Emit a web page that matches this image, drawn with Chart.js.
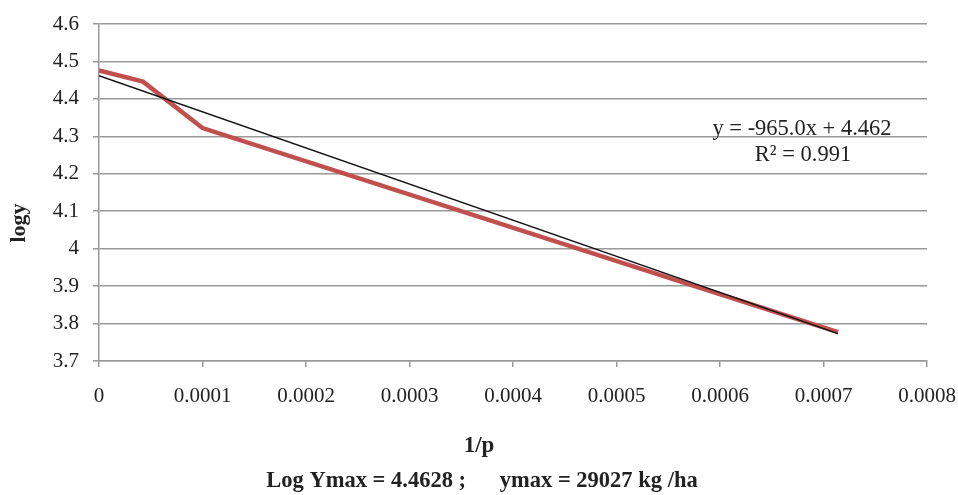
<!DOCTYPE html>
<html>
<head>
<meta charset="utf-8">
<script src="https://cdn.jsdelivr.net/npm/chart.js@4"></script>
<style>
  html, body { margin: 0; padding: 0; background: #fff; }
  #wrap { width: 958px; height: 495px; position: relative; }
</style>
</head>
<body>
<div id="wrap"><canvas id="chart"></canvas></div>
<script>
// data
const xValues = [0, 0.0000425, 0.0001, 0.000714];
const logyValues = [4.476, 4.446, 4.322, 3.777];
// linear trend (y = -965.0x + 4.462), its two end points
const trendX = [0, 0.000714];
const trendY = [4.462, 3.773];

const xTickLabels = ["0", "0.0001", "0.0002", "0.0003", "0.0004", "0.0005", "0.0006", "0.0007", "0.0008"];
const yTickLabels = ["3.7", "3.8", "3.9", "4", "4.1", "4.2", "4.3", "4.4", "4.5", "4.6"];

const eqText = "y = -965.0x + 4.462";
const r2Text = "R\u00b2 = 0.991";
const xTitle = "1/p";
const yTitle = "logy";
const caption = "Log Ymax = 4.4628 ;      ymax = 29027 kg /ha";

const serif = "'Liberation Serif', 'DejaVu Serif', serif";

const textPlugin = {
  id: "texts",
  afterDraw(chart) {
    const ctx = chart.ctx;
    ctx.save();
    ctx.fillStyle = "#222";
    ctx.textAlign = "center";
    ctx.textBaseline = "middle";
    // trend equation
    ctx.font = "22.5px " + serif;
    ctx.fillText(eqText, 802, 129);
    ctx.fillText(r2Text, 803, 155);
    // axis titles and caption
    ctx.font = "bold 23px " + serif;
    ctx.fillText(xTitle, 479, 446);
    ctx.font = "bold 22.5px " + serif;
    ctx.fillText(caption, 482, 481);
    ctx.translate(19, 223);
    ctx.rotate(-Math.PI / 2);
    ctx.font = "bold 22px " + serif;
    ctx.fillText(yTitle, 0, 0);
    ctx.restore();
  }
};

const mainPoints = xValues.map((x, i) => ({ x: x, y: logyValues[i] }));
const trendPoints = trendX.map((x, i) => ({ x: x, y: trendY[i] }));

new Chart(document.getElementById("chart"), {
  type: "scatter",
  data: {
    datasets: [
      {
        data: trendPoints,
        showLine: true,
        borderColor: "#111",
        borderWidth: 1.5,
        pointRadius: 0,
        order: 0
      },
      {
        data: mainPoints,
        showLine: true,
        borderColor: "#c0504d",
        borderWidth: 4.5,
        pointRadius: 0,
        tension: 0,
        order: 1
      }
    ]
  },
  options: {
    responsive: true,
    maintainAspectRatio: false,
    animation: false,
    layout: { padding: { top: 24, right: 31, left: 0, bottom: 0 } },
    plugins: { legend: { display: false }, tooltip: { enabled: false } },
    scales: {
      x: {
        type: "linear",
        min: 0,
        max: 0.0008,
        afterFit: s => { s.height = 134; s.paddingLeft = 0; s.paddingRight = 0; },
        afterBuildTicks: s => {
          s.ticks = xTickLabels.map((t, i) => ({ value: i * 0.0001 }));
        },
        ticks: {
          autoSkip: false,
          maxRotation: 0,
          padding: 17,
          color: "#222",
          font: { family: serif, size: 21 },
          callback: (v, i) => xTickLabels[i]
        },
        grid: { drawOnChartArea: false, drawTicks: true, tickLength: 6, color: "#999", lineWidth: 1.5 },
        border: { color: "#999", width: 1.5 }
      },
      y: {
        type: "linear",
        min: 3.7,
        max: 4.6,
        afterFit: s => { s.width = 99; s.paddingTop = 0; s.paddingBottom = 0; },
        afterBuildTicks: s => {
          s.ticks = yTickLabels.map((t, i) => ({ value: 3.7 + i * 0.1 }));
        },
        ticks: {
          autoSkip: false,
          padding: 14,
          color: "#222",
          font: { family: serif, size: 21 },
          callback: (v, i) => yTickLabels[i]
        },
        grid: { color: "#999", lineWidth: 1.5, tickLength: 6 },
        border: { color: "#999", width: 1.5 }
      }
    }
  },
  plugins: [textPlugin]
});
</script>
</body>
</html>
